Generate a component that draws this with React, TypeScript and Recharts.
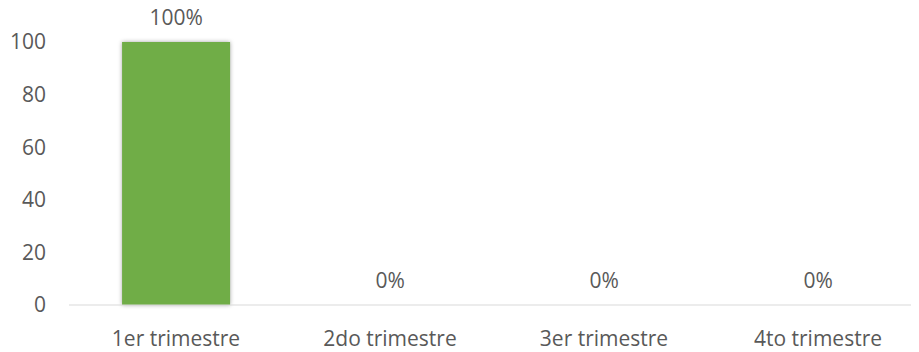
import React from 'react';
import { BarChart, Bar, XAxis, YAxis, LabelList, Rectangle } from 'recharts';

const categories = ['1er trimestre', '2do trimestre', '3er trimestre', '4to trimestre'];
const values = [100, 0, 0, 0];
const yTicks = [0, 20, 40, 60, 80, 100];

const TEXT_COLOR = '#595959';
const FONT = '"Open Sans", sans-serif';

const data = categories.map((name, i) => ({ name, value: values[i] }));

// barra con sombra suave como en Excel
const ShadowBar = (props: any) => {
  if (!props.height) return null;
  return <Rectangle {...props} style={{ filter: 'drop-shadow(0px 0px 2px rgba(0,0,0,0.35))' }} />;
};

export default function App() {
  return (
    <div style={{ margin: '-8px 0 0 -8px', width: 919, height: 352, overflow: 'hidden', background: '#fff' }}>
      <BarChart
        width={925}
        height={352}
        data={data}
        margin={{ top: 42, right: 0, left: 0, bottom: 0 }}
        barCategoryGap="24.8%"
        style={{ fontFamily: FONT }}
      >
        <XAxis
          dataKey="name"
          height={47}
          axisLine={{ stroke: '#D9D9D9', strokeWidth: 1 }}
          tickLine={false}
          tickMargin={20}
          tick={{ fill: TEXT_COLOR, fontSize: 21, fontFamily: FONT }}
        />
        <YAxis
          width={69}
          domain={[0, 100]}
          ticks={yTicks}
          axisLine={false}
          tickLine={false}
          tickMargin={17}
          tick={{ fill: TEXT_COLOR, fontSize: 21, fontFamily: FONT }}
        />
        <Bar dataKey="value" fill="#70AD47" isAnimationActive={false} shape={<ShadowBar />}>
          <LabelList
            dataKey="value"
            position="top"
            offset={17}
            formatter={(v: any) => `${v}%`}
            style={{ fill: TEXT_COLOR, fontSize: 21, fontFamily: FONT }}
          />
        </Bar>
      </BarChart>
    </div>
  );
}
